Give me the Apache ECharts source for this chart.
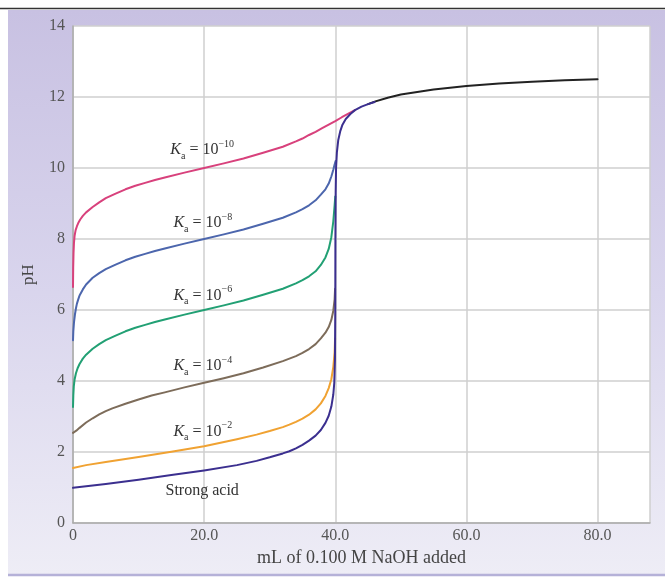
<!DOCTYPE html>
<html><head><meta charset="utf-8">
<script src="https://cdn.jsdelivr.net/npm/echarts@6/dist/echarts.min.js"></script>
<style>html,body{margin:0;padding:0;background:#fff}#c{width:665px;height:578px}</style>
</head><body><div id="c"></div>
<script>
// ---- data ----
const xTickValues = [0, 20, 40, 60, 80];
const xTickLabels = ['0', '20.0', '40.0', '60.0', '80.0'];
const yTickValues = [0, 2, 4, 6, 8, 10, 12, 14];

const strongAcid = [[0,0.99],[5,1.1],[10,1.22],[15,1.35],[20,1.48],[25,1.63],[28,1.75],[30,1.85],[32,1.96],[33,2.02],[34,2.1],[35,2.2],[36,2.32],[37,2.46],[37.8,2.62],[38.5,2.82],[39,3.02],[39.4,3.28],[39.7,3.62],[39.85,3.95],[39.95,4.6],[40,6.0],[40.02,8.0],[40.06,9.3],[40.12,10.0],[40.25,10.45],[40.45,10.78],[40.75,11.03],[41.1,11.22],[41.6,11.38],[42.3,11.52],[43,11.63],[44,11.73],[45,11.8],[46,11.86]];
const ka1e2 = [[0,1.55],[2,1.63],[5,1.72],[10,1.86],[15,2.01],[20,2.16],[25,2.36],[28,2.49],[30,2.59],[32,2.7],[33,2.77],[34,2.85],[35,2.94],[36,3.05],[37,3.2],[37.8,3.37],[38.5,3.58],[39,3.8],[39.4,4.05],[39.7,4.4],[39.9,4.8],[39.97,5.2]];
const ka1e4 = [[0,2.54],[0.5,2.6],[1,2.68],[2,2.83],[3,2.95],[4,3.06],[5,3.15],[6,3.23],[8,3.36],[10,3.48],[12,3.59],[14,3.68],[17,3.82],[20,3.95],[23,4.08],[26,4.22],[29,4.38],[32,4.56],[34,4.7],[35,4.79],[36,4.9],[37,5.04],[37.8,5.2],[38.5,5.36],[39,5.52],[39.4,5.72],[39.7,5.98],[39.9,6.3],[39.97,6.6]];
const ka1e6 = [[0,3.27],[0.05,3.6],[0.12,3.85],[0.25,4.05],[0.45,4.22],[0.7,4.36],[1,4.48],[1.5,4.63],[2,4.74],[3,4.91],[4,5.04],[5,5.15],[6.5,5.28],[8,5.4],[9.5,5.5],[11,5.58],[12.5,5.66],[14,5.73],[17,5.87],[20,6.0],[23,6.13],[26,6.27],[29,6.43],[32,6.6],[34,6.75],[35,6.84],[36,6.95],[37,7.09],[37.8,7.27],[38.5,7.48],[39,7.72],[39.4,8.05],[39.7,8.5],[39.9,8.95],[40,9.2]];
const ka1e8 = [[0,5.15],[0.05,5.4],[0.15,5.65],[0.3,5.88],[0.45,6.05],[0.6,6.18],[0.8,6.3],[1,6.41],[1.5,6.58],[2,6.72],[3,6.91],[4,7.04],[5,7.15],[6.5,7.28],[8,7.4],[9.5,7.5],[11,7.58],[12.5,7.66],[14,7.73],[17,7.87],[20,8.0],[23,8.13],[26,8.27],[29,8.43],[32,8.6],[34,8.75],[35,8.84],[36,8.95],[37,9.09],[37.8,9.25],[38.5,9.4],[39,9.56],[39.4,9.76],[39.7,9.95],[39.9,10.1],[40.05,10.2]];
const ka1e10 = [[0,6.65],[0.03,7.2],[0.08,7.6],[0.15,7.9],[0.25,8.1],[0.4,8.25],[0.6,8.36],[0.8,8.45],[1.1,8.55],[1.5,8.65],[2,8.75],[3,8.9],[4,9.03],[5,9.15],[6.5,9.28],[8,9.4],[9.5,9.5],[11,9.58],[12.5,9.66],[14,9.73],[17,9.87],[20,10.0],[23,10.13],[26,10.27],[29,10.43],[32,10.6],[34,10.75],[35,10.83],[36,10.93],[37,11.02],[38,11.12],[39,11.22],[40,11.32],[41,11.43],[42,11.53],[43,11.63]];
const excessBase = [[45,11.8],[46,11.87],[48,11.98],[50,12.07],[52.5,12.14],[55,12.21],[57.5,12.26],[60,12.31],[65,12.38],[70,12.43],[75,12.47],[80,12.5]];

const SERIF = "'Liberation Serif','Times New Roman',serif";

function kaLabel(exp) {
  return '{k|K}{s|a}{t| = 10}{p|−' + exp + '}';
}
const kaRich = {
  k: {fontFamily: SERIF, fontSize: 16, fontStyle: 'italic', color: '#333', lineHeight: 22},
  s: {fontFamily: SERIF, fontSize: 10, color: '#333', lineHeight: 10, verticalAlign: 'bottom'},
  t: {fontFamily: SERIF, fontSize: 16, color: '#333', lineHeight: 22},
  p: {fontFamily: SERIF, fontSize: 10, color: '#333', lineHeight: 10, verticalAlign: 'top'}
};

function mk(coord, text) {
  return {
    silent: true,
    symbol: 'circle', symbolSize: 0,
    data: [{coord: coord}],
    label: {show: true, position: 'inside', formatter: text, rich: kaRich,
            fontFamily: SERIF, fontSize: 16, color: '#333'}
  };
}

function line(name, data, color, markCoord, markText, z) {
  return {
    name: name, type: 'line', data: data, showSymbol: false, symbol: 'none',
    smooth: false,
    lineStyle: {color: color, width: 2, join: 'round', cap: 'round'}, z: z,
    markPoint: markCoord ? mk(markCoord, markText) : undefined,
    animation: false
  };
}

const chart = echarts.init(document.getElementById('c'), null, {renderer: 'canvas'});
chart.setOption({
  animation: false,
  backgroundColor: '#ffffff',
  graphic: [
    {type: 'rect', shape: {x: 8, y: 10, width: 657, height: 565}, z: -10,
     style: {fill: {type: 'linear', x: 0, y: 0, x2: 0, y2: 1, colorStops: [
       {offset: 0, color: '#c8c1e2'}, {offset: 0.5, color: '#d9d5ed'}, {offset: 1, color: '#eeedf6'}]}}},
    {type: 'line', shape: {x1: 0, y1: 8.5, x2: 665, y2: 8.5}, z: -9, style: {stroke: '#333', lineWidth: 1.5}},
    {type: 'line', shape: {x1: 8, y1: 575, x2: 665, y2: 575}, z: -9, style: {stroke: '#b5b1d8', lineWidth: 2.5}}
  ],
  grid: {left: 73, right: 15, top: 26, bottom: 55, show: true, backgroundColor: '#ffffff', borderWidth: 0,
         containLabel: false, outerBoundsMode: 'none'},
  xAxis: {
    type: 'value', min: 0, max: 88, interval: 20,
    name: 'mL of 0.100 M NaOH added', nameLocation: 'middle', nameGap: 25,
    nameTextStyle: {fontFamily: SERIF, fontSize: 18, color: '#444'},
    axisLine: {show: true, lineStyle: {color: '#aaa', width: 1.5}},
    axisTick: {show: false},
    axisLabel: {margin: 5, fontFamily: SERIF, fontSize: 16, color: '#555',
      formatter: function (v) { const i = xTickValues.indexOf(v); return i >= 0 ? xTickLabels[i] : ''; }},
    splitLine: {show: true, lineStyle: {color: '#cfcfcf', width: 1.5}}
  },
  yAxis: {
    type: 'value', min: 0, max: 14, interval: 2,
    name: 'pH', nameLocation: 'middle', nameGap: 36, nameRotate: 90,
    nameTextStyle: {fontFamily: SERIF, fontSize: 17, color: '#444'},
    axisLine: {show: true, lineStyle: {color: '#aaa', width: 1.5}},
    axisTick: {show: false},
    axisLabel: {margin: 8, fontFamily: SERIF, fontSize: 16, color: '#555',
      formatter: function (v) { return yTickValues.indexOf(v) >= 0 ? String(v) : ''; }},
    splitLine: {show: true, lineStyle: {color: '#cfcfcf', width: 1.5}}
  },
  series: [
    line('base', excessBase, '#222222', null, null, 2),
    line('Ka=1e-10', ka1e10, '#d8417c', [19.7, 10.5], kaLabel('10'), 3),
    line('Ka=1e-8', ka1e8, '#4c66ad', [19.8, 8.45], kaLabel('8'), 3),
    line('Ka=1e-6', ka1e6, '#22a074', [19.8, 6.4], kaLabel('6'), 3),
    line('Ka=1e-4', ka1e4, '#7d6c5a', [19.8, 4.42], kaLabel('4'), 3),
    line('Ka=1e-2', ka1e2, '#f0a232', [19.8, 2.58], kaLabel('2'), 3),
    line('Strong acid', strongAcid, '#3b2f8f', [19.7, 0.9], 'Strong acid', 4)
  ]
});
</script>
</body></html>
